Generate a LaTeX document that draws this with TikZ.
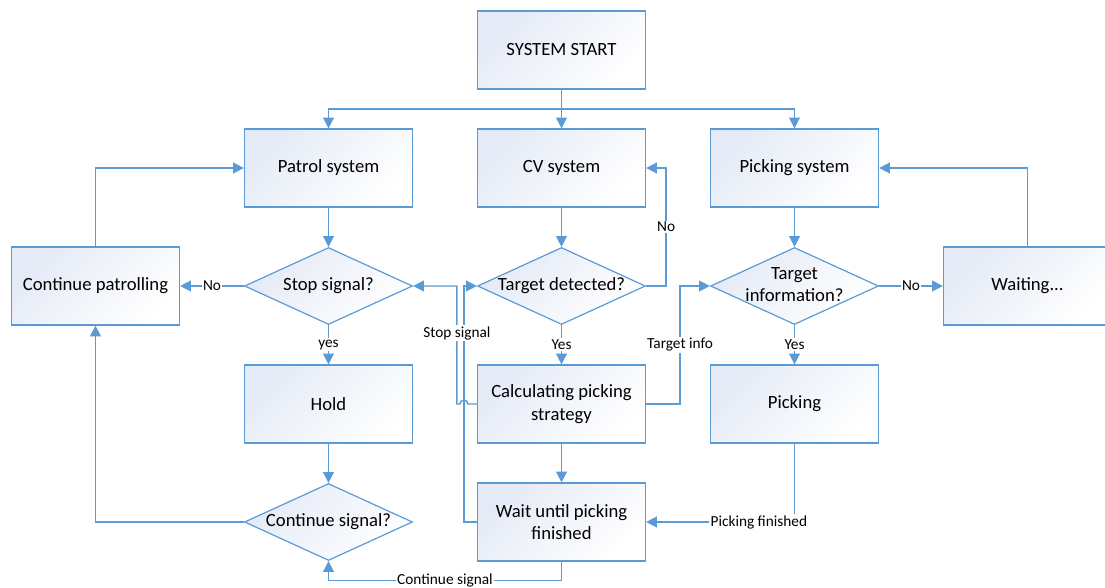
\documentclass[tikz,border=0pt]{standalone}
\usepackage{fontspec}
\setmainfont{Carlito}
\usepackage{tikz}
\usetikzlibrary{positioning}
\usetikzlibrary{arrows.meta}
\usetikzlibrary{shapes.geometric, calc}

\definecolor{lineblue}{HTML}{5B9BD5}
\definecolor{fillblue}{HTML}{E4EAF6}

% text of a decision diamond, kept narrow so the diamond keeps its size
\newcommand{\dtext}[1]{\makebox[40pt]{\begin{tabular}{@{}c@{}}#1\end{tabular}}}

\begin{document}
\begin{tikzpicture}[->,>={Triangle[length=8pt,width=8pt]},on grid,
  node distance=88.5pt and 174.75pt,line width=1.1pt,color=lineblue,
  main node/.style={rectangle,draw=lineblue,line width=0.9pt,top color=fillblue,
    bottom color=white,shading angle=45,minimum width=126pt,minimum height=58.5pt,
    text=black,font=\fontsize{14}{17}\selectfont,align=center},
  decision node/.style={main node,diamond,aspect=2.18,inner sep=0pt,minimum height=57.75pt},
  edge label/.style={fill=white,text=black,font=\fontsize{11.5}{13}\selectfont,inner sep=1pt}]

  \clip (-421.125pt,37.5pt) rectangle (407.625pt,-403.5pt);

  \node[main node] (1) {SYSTEM START};
  \node[main node] (2) [below=of 1] {CV system};
  \node[main node] (3) [left=of 2] {Patrol system};
  \node[main node] (4) [right=of 2] {Picking system};

  \node[decision node] (5) [below=of 3] {\dtext{Stop signal?}};
  \node[decision node] (6) [below=of 2] {\dtext{Target detected?}};
  \node[decision node] (7) [below=of 4] {\dtext{Target\\information?}};
  \node[main node] (8) [left=of 5] {Continue patrolling};
  \node[main node] (9) [right=of 7] {Waiting...};

  \node[main node] (10) [below=of 5] {Hold};
  \node[main node] (11) [below=of 6] {Calculating picking\\strategy};
  \node[main node] (12) [below=of 7] {Picking};
  \node[decision node] (13) [below=of 10] {\dtext{Continue signal?}};
  \node[main node] (14) [below=of 11] {Wait until picking\\finished};

  % start fans out to the three systems
  \coordinate (s) at ($(1.south)!0.5!(2.north)$);
  \draw[-] (1.south) -- (s);
  \draw (s) -| (3.north);
  \draw (s) -- (2.north);
  \draw (s) -| (4.north);

  \path[every node/.style={edge label}]
    (3) edge (5)
    (5) edge node {No} (8)
    (5) edge node {yes} (10)
    (10) edge (13)
    (2) edge (6)
    (6) edge node {Yes} (11)
    (11) edge (14)
    (4) edge (7)
    (7) edge node {No} (9)
    (7) edge node {Yes} (12);

  \draw (8.north) |- (3.west);
  \draw (13.west) -| (8.south);
  \draw (14.south) -- ++(0,-14.25pt) -| node[edge label,pos=0.25] {Continue signal} (13.south);
  \draw (6.east) -- ++(15pt,0) |- node[edge label,pos=0.25] {No} (2.east);
  \draw (11.east) -- ++(25.5pt,0) |- node[edge label,pos=0.25] {Target info} (7.west);
  \draw (9.north) |- (4.east);
  \draw (12.south) |- node[edge label,pos=0.62] {Picking finished} (14.east);
  \draw (14.west) -- ++(-9.75pt,0) |- (6.west);
  \draw (11.west) -- ++(-6.75pt,0) arc[start angle=0,end angle=180,radius=3pt]
    -- ++(-2.25pt,0) |- node[edge label,pos=0.3] {Stop signal} (5.east);
\end{tikzpicture}
\end{document}
